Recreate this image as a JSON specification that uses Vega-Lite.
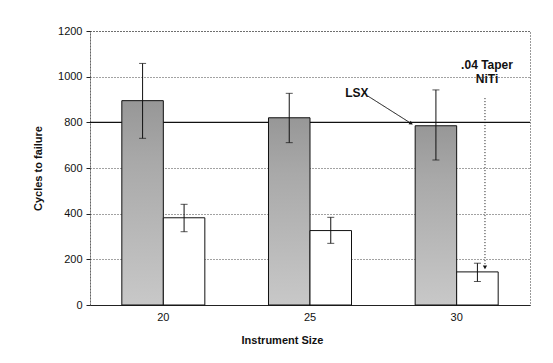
{
  "$schema": "https://vega.github.io/schema/vega-lite/v6.json",
  "width": 440,
  "height": 274,
  "autosize": {"type": "none"},
  "padding": {"left": 90, "top": 31, "right": 23, "bottom": 58},
  "background": "white",
  "config": {
    "font": "Liberation Sans",
    "view": {"stroke": "#333", "strokeDash": [1, 2], "strokeWidth": 1},
    "axis": {"labelFont": "Liberation Sans", "titleFont": "Liberation Sans", "labelColor": "#111", "titleColor": "#111"}
  },
  "datasets": {
    "bars": [
      {"size": "20", "instrument": "LSX", "cycles": 895, "lo": 730, "hi": 1058},
      {"size": "25", "instrument": "LSX", "cycles": 820, "lo": 711, "hi": 927},
      {"size": "30", "instrument": "LSX", "cycles": 785, "lo": 635, "hi": 942},
      {"size": "20", "instrument": ".04 Taper NiTi", "cycles": 382, "lo": 321, "hi": 441},
      {"size": "25", "instrument": ".04 Taper NiTi", "cycles": 326, "lo": 270, "hi": 384},
      {"size": "30", "instrument": ".04 Taper NiTi", "cycles": 145, "lo": 103, "hi": 183}
    ],
    "refline": [{"level": 800}],
    "labels": [
      {"pos": 1.82, "val": 930, "label": "LSX"},
      {"pos": 2.707, "val": 1050, "label": ".04 Taper\nNiTi"}
    ],
    "arrows": [
      {"x1": 1.895, "y1": 915, "x2": 2.19, "y2": 795, "kind": "LSX"},
      {"x1": 2.693, "y1": 906, "x2": 2.693, "y2": 165, "kind": "NiTi"}
    ]
  },
  "layer": [
    {
      "data": {"name": "refline"},
      "mark": {"type": "rule", "color": "#111", "strokeWidth": 1.2},
      "encoding": {"y": {"field": "level", "type": "quantitative", "scale": {"domain": [0, 1200], "nice": false}}}
    },
    {
      "data": {"name": "bars"},
      "encoding": {
        "x": {
          "field": "size", "type": "nominal",
          "scale": {"paddingInner": 0.434, "paddingOuter": 0.217},
          "axis": {"title": "Instrument Size", "labelAngle": 0, "ticks": false, "labelPadding": 6, "labelFontSize": 11, "titleFontSize": 11, "titleFontWeight": "bold", "titlePadding": 12, "titleX": 192, "domainColor": "#222", "grid": false}
        },
        "xOffset": {"field": "instrument", "type": "nominal", "scale": {"domain": ["LSX", ".04 Taper NiTi"], "paddingInner": 0, "paddingOuter": 0}},
        "y": {
          "field": "cycles", "type": "quantitative",
          "scale": {"domain": [0, 1200], "nice": false},
          "axis": {"title": "Cycles to failure", "format": "d", "values": [0, 200, 400, 600, 800, 1000, 1200], "tickSize": 4, "tickColor": "#222", "labelPadding": 4, "labelFontSize": 11, "titleFontSize": 11, "titleFontWeight": "bold", "titlePadding": 14, "domainColor": "#333", "domainDash": [1, 2], "gridColor": "#444", "gridDash": [1, 2], "gridWidth": 1}
        }
      },
      "layer": [
        {
          "transform": [{"filter": "datum.instrument == 'LSX'"}],
          "mark": {"type": "bar", "stroke": "#111", "strokeWidth": 1,
            "color": {"gradient": "linear", "x1": 0, "y1": 0, "x2": 0, "y2": 1,
              "stops": [{"offset": 0, "color": "#979797"}, {"offset": 0.3, "color": "#a9a9a9"}, {"offset": 1, "color": "#c8c8c8"}]}}
        },
        {
          "transform": [{"filter": "datum.instrument != 'LSX'"}],
          "mark": {"type": "bar", "fill": "white", "stroke": "#111", "strokeWidth": 1}
        },
        {
          "mark": {"type": "rule", "color": "#111", "strokeWidth": 1},
          "encoding": {"y": {"field": "lo", "type": "quantitative"}, "y2": {"field": "hi"}}
        },
        {
          "mark": {"type": "tick", "color": "#111", "size": 7, "thickness": 1},
          "encoding": {"y": {"field": "lo", "type": "quantitative"}}
        },
        {
          "mark": {"type": "tick", "color": "#111", "size": 7, "thickness": 1},
          "encoding": {"y": {"field": "hi", "type": "quantitative"}}
        }
      ]
    },
    {
      "data": {"name": "labels"},
      "mark": {"type": "text", "fontWeight": "bold", "fontSize": 12, "align": "center", "baseline": "middle", "lineBreak": "\n", "lineHeight": 14, "color": "#111"},
      "encoding": {
        "x": {"field": "pos", "type": "quantitative", "scale": {"domain": [0, 3], "nice": false}, "axis": null},
        "y": {"field": "val", "type": "quantitative"},
        "text": {"field": "label"}
      }
    },
    {
      "data": {"name": "arrows"},
      "encoding": {
        "x": {"field": "x1", "type": "quantitative", "scale": {"domain": [0, 3], "nice": false}, "axis": null},
        "y": {"field": "y1", "type": "quantitative"},
        "x2": {"field": "x2"},
        "y2": {"field": "y2"},
        "strokeDash": {"field": "kind", "type": "nominal", "scale": {"domain": ["LSX", "NiTi"], "range": [[1, 0], [1, 2]]}, "legend": null}
      },
      "mark": {"type": "rule", "color": "#111", "strokeWidth": 1}
    },
    {
      "data": {"name": "arrows"},
      "mark": {"type": "point", "filled": true, "color": "#111", "size": 18, "opacity": 1},
      "encoding": {
        "x": {"field": "x2", "type": "quantitative", "scale": {"domain": [0, 3], "nice": false}, "axis": null},
        "y": {"field": "y2", "type": "quantitative"},
        "shape": {"field": "kind", "type": "nominal", "scale": {"domain": ["LSX", "NiTi"], "range": ["triangle-right", "triangle-down"]}, "legend": null},
        "angle": {"field": "kind", "type": "nominal", "scale": {"domain": ["LSX", "NiTi"], "range": [33, 0]}, "legend": null}
      }
    }
  ],
  "resolve": {"scale": {"x": "independent"}}
}
